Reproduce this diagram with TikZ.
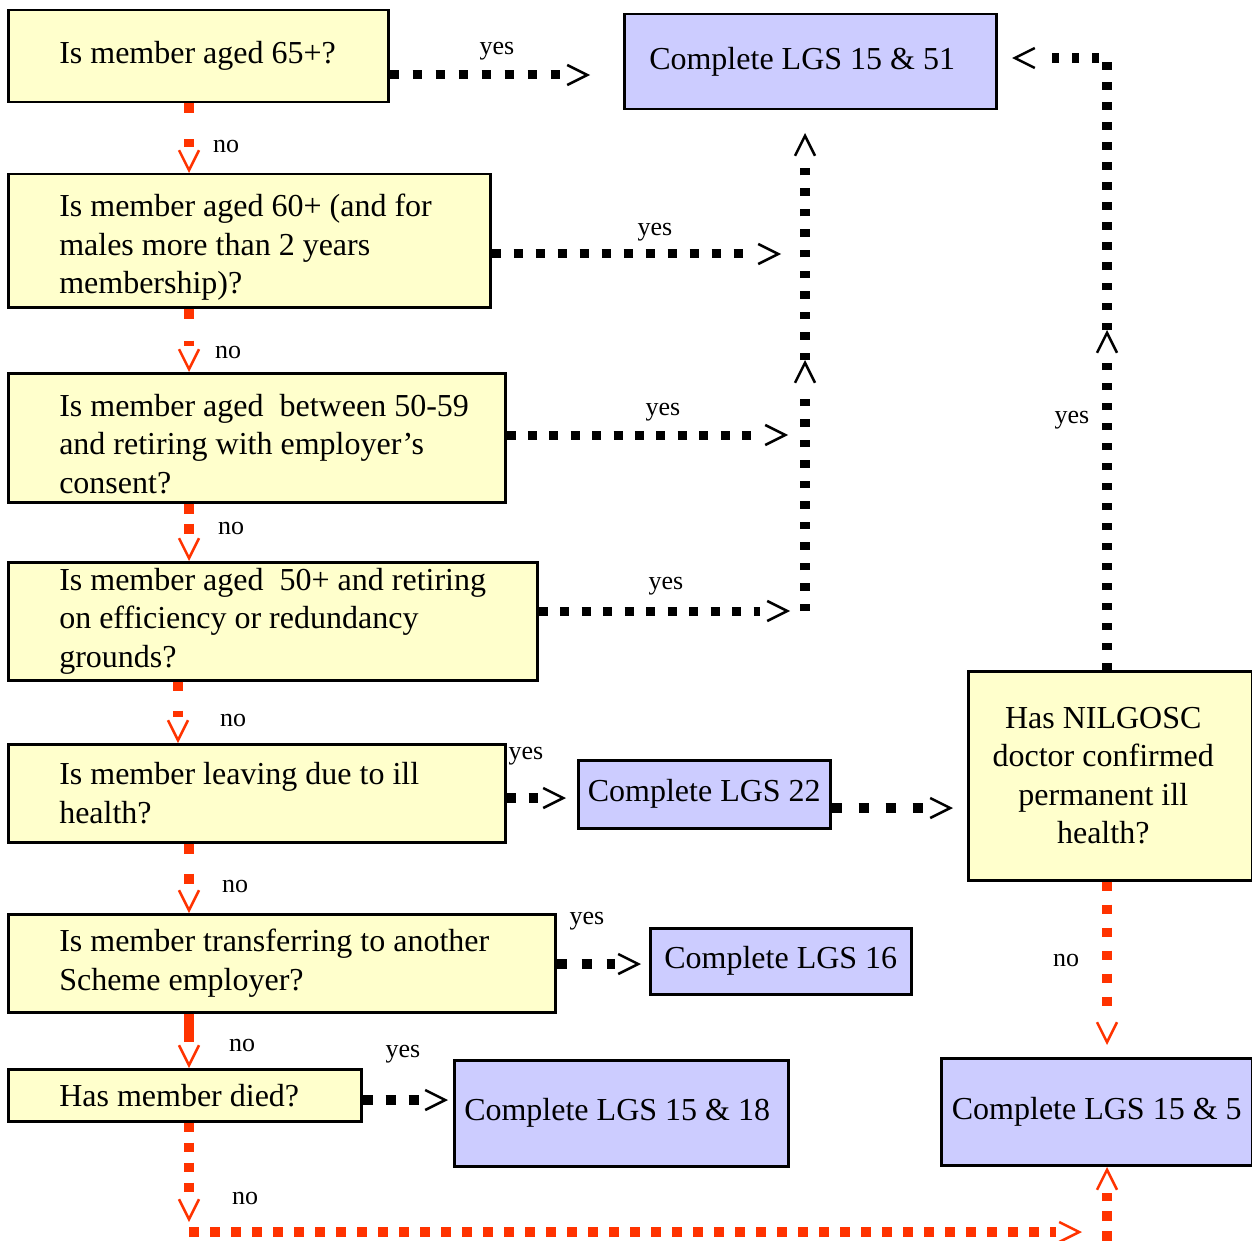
\documentclass[tikz,border=0pt]{standalone}
\usepackage{fontspec}
\setmainfont{Liberation Serif}
\usetikzlibrary{arrows.meta,decorations.markings}
\definecolor{qyellow}{RGB}{255,255,204}
\definecolor{cblue}{RGB}{204,204,255}
\definecolor{nored}{RGB}{255,51,0}
\newcommand{\qtextfont}{\fontsize{32}{38.5}\selectfont}
\newcommand{\lbltextfont}{\fontsize{26}{30}\selectfont}
\newcommand{\qline}[1]{\mbox{#1}}
\newcommand{\nilline}[1]{\mbox{#1\hspace{14pt}}}
\tikzset{
  qbox/.style={draw, line width=2.5pt, fill=qyellow, inner sep=0pt, font=\qtextfont, align=flush left, anchor=north west},
  cbox/.style={draw, line width=2.5pt, fill=cblue, inner sep=0pt, font=\qtextfont, align=flush center, anchor=north west},
  lbl/.style={font=\lbltextfont, inner sep=0pt},
  tipped/.style 2 args={shorten >=#2, postaction={decorate, decoration={markings, mark=at position 1 with {\arrow[line width=2.5pt, #1, solid]{Straight Barb[length=20pt 0 1, width=20pt 0 1]}}}}},
  yesline/.style={draw=black, line width=9pt, dash pattern=on 9pt off 13pt, tipped={black}{30pt}},
  vline/.style={draw=black, line width=10pt, dash pattern=on 7.5pt off 13pt, tipped={black}{28pt}},
  noline/.style={draw=nored, line width=10pt, dash pattern=on 10pt off 12pt, tipped={nored}{26pt}},
}
\begin{document}
\begin{tikzpicture}[x=1pt, y=-1pt]
\useasboundingbox (0,0) rectangle (1252,1241);

% question boxes
\node[qbox, minimum width=380pt, minimum height=92pt, text width=278pt] (q1) at (7,9) {\qline{Is member aged 65+?}\rule[-6pt]{0pt}{6pt}};
\node[qbox, minimum width=482pt, minimum height=133pt, text width=380pt] (q2) at (7,173) {\qline{\rule{0pt}{36pt}Is member aged 60+ (and for}\\\qline{males more than 2 years}\\\qline{membership)?}};
\node[qbox, minimum width=497pt, minimum height=129pt, text width=395pt] (q3) at (7,372) {\qline{\rule{0pt}{34pt}Is member aged\ \ between 50-59}\\\qline{and retiring with employer’s}\\\qline{consent?}};
\node[qbox, minimum width=529pt, minimum height=118pt, text width=427pt] (q4) at (7,561) {\qline{Is member aged\ \ 50+ and retiring}\\\qline{on efficiency or redundancy}\\\qline{grounds?}};
\node[qbox, minimum width=497pt, minimum height=98pt, text width=395pt] (q5) at (7,743) {\qline{Is member leaving due to ill}\\\qline{health?}};
\node[qbox, minimum width=547pt, minimum height=98pt, text width=445pt] (q6) at (7,913) {\qline{Is member transferring to another}\\\qline{Scheme employer?}};
\node[qbox, minimum width=353pt, minimum height=52pt, text width=251pt] (q7) at (7,1068) {\qline{Has member died?}};
\node[qbox, align=flush center, minimum width=284pt, minimum height=209pt, text width=270pt] (nil) at (967,670) {\nilline{Has NILGOSC}\\\nilline{doctor confirmed}\\\nilline{permanent ill}\\\nilline{health?}};

% outcome boxes
\node[cbox, align=flush left, minimum width=372pt, minimum height=95pt, text width=322pt] (c1) at (623,13) {\qline{Complete LGS 15 \& 51}};
\node[cbox, minimum width=252pt, minimum height=68pt] (c22) at (577,759) {Complete LGS 22};
\node[cbox, minimum width=261pt, minimum height=66pt] (c16) at (649,927) {Complete LGS 16};
\node[cbox, align=flush left, minimum width=334pt, minimum height=106pt, text width=314pt] (c18) at (453,1059) {\qline{Complete LGS 15 \& 18}};
\node[cbox, minimum width=311pt, minimum height=107pt] (c5) at (940,1057) {Complete LGS 15 \& 5};

% connector coordinates
\coordinate (colA) at (189,0);
\coordinate (colB) at (178,0);
\coordinate (j1) at (590,75);
\coordinate (j2) at (781,254);
\coordinate (j3) at (788,435);
\coordinate (j4) at (790,611);
\coordinate (m1) at (805,611);
\coordinate (m2) at (805,360);
\coordinate (m3) at (805,133);
\coordinate (r1) at (1107,330);
\coordinate (r2) at (1107,58);
\coordinate (r3) at (1012,58);
\coordinate (j5) at (566,798);
\coordinate (j6) at (953,808);
\coordinate (j7) at (641,964);
\coordinate (j8) at (448,1100);
\coordinate (n7) at (189,1222);
\coordinate (h1) at (189,1232);
\coordinate (h2) at (1082,1232);
\coordinate (u1) at (1107,1241);
\coordinate (u2) at (1107,1167);
\coordinate (n8) at (1107,1045);

% yes connectors
\draw[yesline, dash pattern=on 9pt off 14pt] (q1.east |- j1) -- (j1);
\draw[yesline, dash pattern=on 9pt off 13pt] (q2.east |- j2) -- (j2);
\draw[yesline, dash pattern=on 9pt off 12.4pt] (q3.east |- j3) -- (j3);
\draw[yesline, dash pattern=on 9pt off 12.5pt] (q4.east |- j4) -- (j4);
\draw[vline] (m1) -- (m2);
\draw[vline] (m2) -- (m3);
\draw[vline, dash pattern=on 7.5pt off 12.5pt] (nil.north -| r1) -- (r1);
\draw[vline, dash pattern=on 7.5pt off 12.5pt] (r1) -- (r2) -- (r3);
\draw[yesline, line width=10pt, dash pattern=on 9pt off 13pt, shorten >=26pt] (q5.east |- j5) -- (j5);
\draw[yesline, line width=10pt, dash pattern=on 10pt off 17pt] (c22.east |- j6) -- (j6);
\draw[yesline, line width=10pt, dash pattern=on 10pt off 15pt, shorten >=26pt] (q6.east |- j7) -- (j7);
\draw[yesline, line width=10pt, dash pattern=on 10pt off 13pt, shorten >=26pt] (q7.east |- j8) -- (j8);

% no connectors
\draw[noline, dash pattern=on 10pt off 26pt] (q1.south -| colA) -- (q2.north -| colA);
\draw[noline, dash pattern=on 10pt off 22pt] (q2.south -| colA) -- (q3.north -| colA);
\draw[noline, dash pattern=on 10pt off 10pt] (q3.south -| colA) -- (q4.north -| colA);
\draw[noline, dash pattern=on 9pt off 20pt] (q4.south -| colB) -- (q5.north -| colB);
\draw[noline, dash pattern=on 10pt off 20pt] (q5.south -| colA) -- (q6.north -| colA);
\draw[noline, solid] (q6.south -| colA) -- (q7.north -| colA);
\draw[noline, dash pattern=on 9pt off 11pt] (q7.south -| colA) -- (n7);
\draw[noline, dash pattern=on 10pt off 11pt] (h1) -- (h2);
\draw[noline, dash pattern=on 10pt off 10pt] (u1) -- (u2);
\draw[noline, dash pattern=on 9pt off 14pt] (nil.south -| u1) -- (n8);

% labels
\node[lbl] (l1) at (497,51) {yes};
\node[lbl] (l2) at (655,232) {yes};
\node[lbl] (l3) at (663,412) {yes};
\node[lbl] (l4) at (666,586) {yes};
\node[lbl] (l5) at (526,756) {yes};
\node[lbl] (l6) at (587,921) {yes};
\node[lbl] (l7) at (403,1054) {yes};
\node[lbl] (l8) at (1072,420) {yes};
\node[lbl] (n1l) at (226,147) {no};
\node[lbl] (n2l) at (228,352) {no};
\node[lbl] (n3l) at (231,528) {no};
\node[lbl] (n4l) at (233,720) {no};
\node[lbl] (n5l) at (235,886) {no};
\node[lbl] (n6l) at (242,1045) {no};
\node[lbl] (n7l) at (245,1198) {no};
\node[lbl] (n8l) at (1066,960) {no};
\end{tikzpicture}
\end{document}
